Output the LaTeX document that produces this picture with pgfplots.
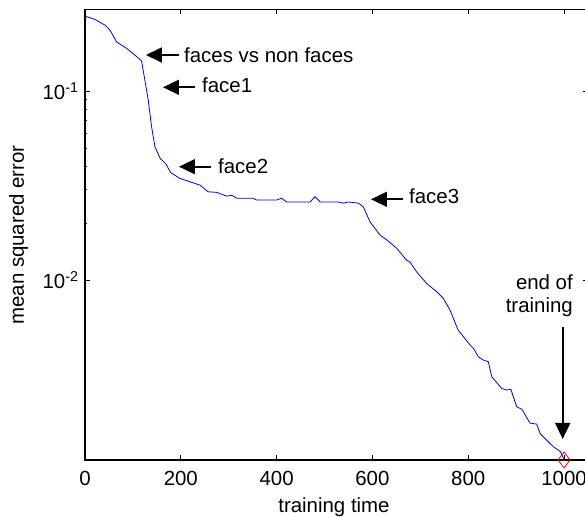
\documentclass[border=0pt]{standalone}
\usepackage{pgfplots}
\pgfplotsset{compat=1.18}
\usepackage{fontspec}
\setmainfont{Liberation Sans}
\usetikzlibrary{arrows.meta,calc}

\begin{document}
\begin{tikzpicture}[font=\fontsize{20.5}{24}\selectfont]
\begin{axis}[
  scale only axis, width=503bp, height=450.5bp,
  xmin=0, xmax=1050, ymode=log, ymin=0.001117, ymax=0.27,
  xtick={0,200,400,600,800,1000},
  ytick={0.01,0.1}, yticklabels={10\textsuperscript{-2},10\textsuperscript{-1}},
  /pgf/number format/assume math mode=true, /pgf/number format/1000 sep={},
  xticklabel style={yshift=-8bp},
  yticklabel style={xshift=-3bp},
  axis line style={line width=1.2bp, black},
  every tick/.style={line width=0.8bp, black},
  major tick length=5bp, minor tick length=2.5bp,
  xtick pos=both, ytick pos=both,
  clip=false,
]
\coordinate (NW) at (rel axis cs:0,1);
\addplot[blue, line width=0.8bp] coordinates {
(0,0.249) (21,0.239) (42,0.223) (52,0.210) (66,0.182) (87,0.168) (104,0.155)
(118,0.1445) (125,0.114) (132,0.0896) (139,0.0647) (146,0.0507) (157,0.044)
(169,0.0411) (179,0.037) (198,0.0345) (219,0.0331) (240,0.0318) (257,0.0293)
(275,0.0291) (296,0.0278) (306,0.0281) (317,0.0271) (351,0.0271) (358,0.0265)
(400,0.0265) (410,0.0271) (421,0.0259) (470,0.0259) (480,0.0276) (491,0.0259)
(529,0.0259) (539,0.0255) (550,0.0259) (571,0.0255) (581,0.0244) (595,0.0203)
(616,0.0173) (630,0.0163) (651,0.0147) (671,0.01276) (678,0.0125) (692,0.01107)
(713,0.0096) (734,0.00868) (748,0.0080) (762,0.00693) (779,0.00543) (804,0.00453)
(811,0.00435) (821,0.00393) (832,0.00377) (842,0.0037) (849,0.00308) (870,0.00267)
(880,0.00262) (889,0.00264) (901,0.00214) (912,0.00207) (929,0.00175) (943,0.00173)
(950,0.00154) (978,0.00131) (992,0.00124) (1000,0.00113)
};
\addplot[only marks, red, mark=diamond, mark size=8bp, mark options={line width=0.8bp}] coordinates {(1000,0.001117)};
\end{axis}
\begin{scope}[shift={($(NW)+(-85bp,9.5bp)$)}, x=1bp, y=-1bp]
  \tikzset{arr/.style={line width=1.8bp, -{Triangle[length=16bp,width=15bp]}}}
  \draw[arr] (179,55) -- (146,55);
  \node[anchor=base west, inner sep=0pt] at (184,63) {faces vs non faces};
  \draw[arr] (195,87.3) -- (163,87.3);
  \node[anchor=base west, inner sep=0pt] at (202,93) {face1};
  \draw[arr] (211,166.7) -- (179,166.7);
  \node[anchor=base west, inner sep=0pt] at (218,173.3) {face2};
  \draw[arr] (403,199.3) -- (371,199.3);
  \node[anchor=base west, inner sep=0pt] at (409,203.3) {face3};
  \node[anchor=base east, inner sep=0pt] at (573,290) {end of};
  \node[anchor=base east, inner sep=0pt] at (573,313) {training};
  \draw[arr] (562.7,326.7) -- (562.7,439);
  \node[anchor=base, inner sep=0pt] at (334,513) {training time};
  \node[anchor=base, rotate=90, inner sep=0pt] at (24,235) {mean squared error};
\end{scope}
\pgfresetboundingbox
\path[use as bounding box] ($(NW)+(-85bp,9.5bp)$) rectangle ($(NW)+(500bp,-507.5bp)$);
\end{tikzpicture}
\end{document}
